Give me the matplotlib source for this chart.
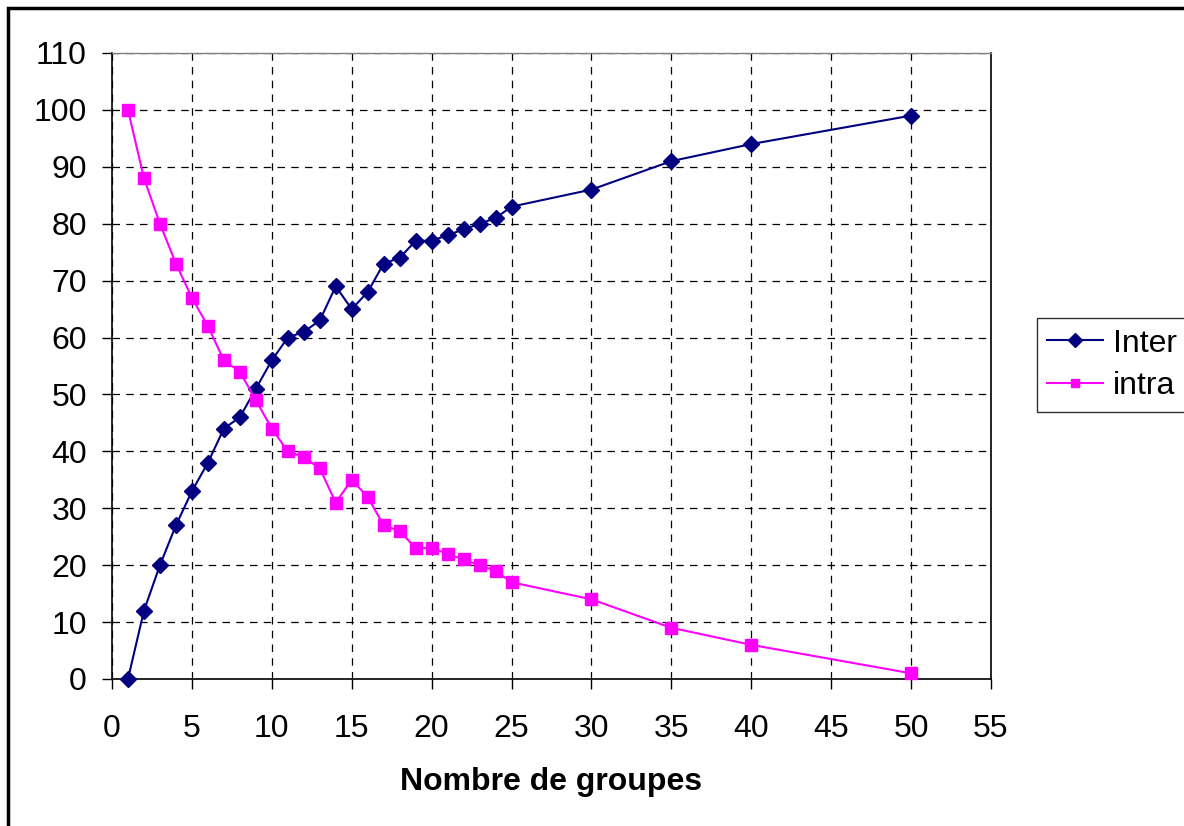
import matplotlib
matplotlib.use("Agg")
import matplotlib.pyplot as plt
from matplotlib.patches import Rectangle

plt.rcParams['font.family'] = ['Liberation Sans', 'DejaVu Sans']

# nombre de groupes
groupes = [1, 2, 3, 4, 5, 6, 7, 8, 9, 10, 11, 12, 13, 14, 15, 16, 17, 18, 19, 20,
           21, 22, 23, 24, 25, 30, 35, 40, 50]
inter = [0, 12, 20, 27, 33, 38, 44, 46, 51, 56, 60, 61, 63, 69, 65, 68, 73, 74, 77, 77,
         78, 79, 80, 81, 83, 86, 91, 94, 99]
intra = [100, 88, 80, 73, 67, 62, 56, 54, 49, 44, 40, 39, 37, 31, 35, 32, 27, 26, 23, 23,
         22, 21, 20, 19, 17, 14, 9, 6, 1]
x_ticks = list(range(0, 56, 5))
y_ticks = list(range(0, 111, 10))

fig = plt.figure(figsize=(11.84, 8.26), dpi=100)
ax = fig.add_axes([112 / 1184, 1 - 679 / 826, (991 - 112) / 1184, (679 - 53) / 826])

ax.plot(groupes, inter, color='#000080', marker='D', markersize=8.5, linewidth=1.5,
        label='Inter', clip_on=False, zorder=3)
ax.plot(groupes, intra, color='#FF00FF', marker='s', markersize=8, linewidth=1.5,
        label='intra', clip_on=False, zorder=3)

ax.set_xlim(0, 55)
ax.set_ylim(0, 110)
ax.set_xticks(x_ticks)
ax.set_yticks(y_ticks)
ax.tick_params(axis='both', direction='out', length=7, width=1, labelsize=23)
ax.tick_params(axis='x', pad=18)
ax.tick_params(axis='y', pad=11)
ax.grid(True, color='black', linestyle=(0, (6, 5)), linewidth=0.9)
ax.set_axisbelow(True)

for side in ['left', 'bottom', 'right']:
    ax.spines[side].set_color('black')
    ax.spines[side].set_linewidth(1.2)
ax.spines['top'].set_color('#808080')
ax.spines['top'].set_linewidth(1.0)

ax.set_xlabel('Nombre de groupes', fontsize=23, fontweight='bold', labelpad=17)

leg = ax.legend(loc='center left', bbox_to_anchor=(1037 / 1184, 1 - 365 / 826),
                bbox_transform=fig.transFigure, borderaxespad=0, fontsize=23,
                frameon=True, fancybox=False, edgecolor='black', handlelength=1.75,
                borderpad=0.32, labelspacing=0.4, handletextpad=0.3,
                markerscale=0.8)
leg.get_frame().set_linewidth(1.0)

# cadre exterieur
fig.patches.append(Rectangle((8 / 1184, -0.05), 1.1, 1 - 8 / 826 + 0.05,
                             transform=fig.transFigure, fill=False,
                             edgecolor='black', linewidth=2.5))

fig.savefig('out.png', dpi=100)
